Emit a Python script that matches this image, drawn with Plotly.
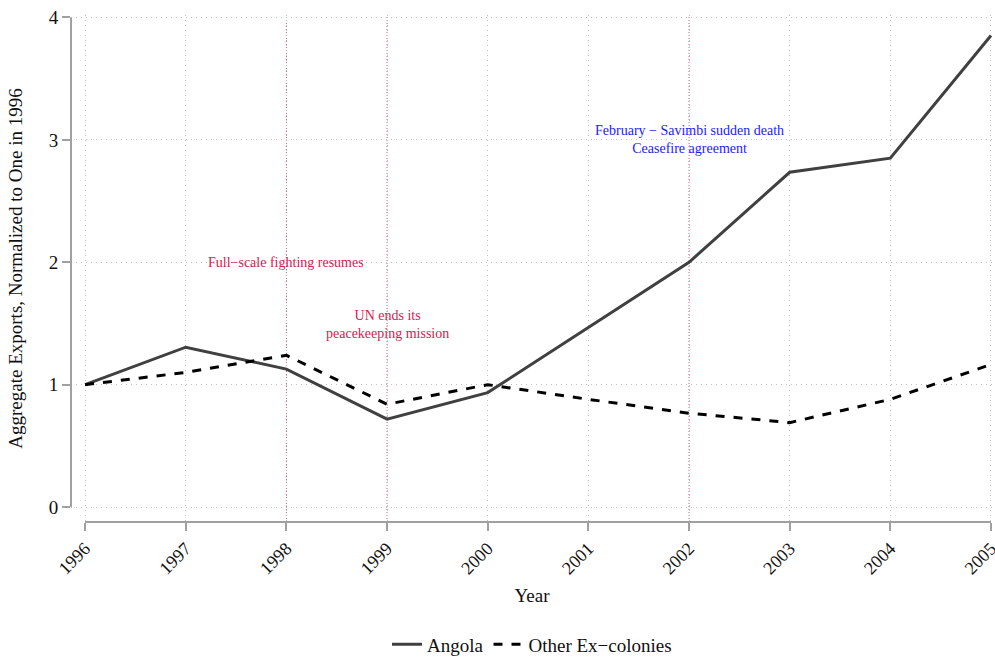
import plotly.graph_objects as go

years = [1996, 1997, 1998, 1999, 2000, 2001, 2002, 2003, 2004, 2005]
angola = [1.0, 1.306, 1.127, 0.718, 0.935, 1.47, 2.0, 2.735, 2.85, 3.853]
other = [1.0, 1.10, 1.24, 0.84, 1.0, 0.88, 0.767, 0.69, 0.88, 1.165]
y_ticks = [0, 1, 2, 3, 4]
event_years = [1998, 1999, 2002]

ann_texts = ["Full\u2212scale fighting resumes",
             "UN ends its<br>peacekeeping mission",
             "February \u2212 Savimbi sudden death<br>Ceasefire agreement"]
ann_x = [1998, 1999, 2002]
ann_y = [2.0, 1.49, 3.0]
ann_colors = ["#d6204f", "#d6204f", "#1a1aff"]

FONT = "Liberation Serif"
GRID_DASH = "1px,4px"

fig = go.Figure()
fig.add_trace(go.Scatter(x=years, y=angola, mode="lines", name="Angola",
                         line=dict(color="#404040", width=3)))
fig.add_trace(go.Scatter(x=years, y=other, mode="lines", name="Other Ex\u2212colonies",
                         line=dict(color="#000000", width=3, dash="dash")))

for ey in event_years:
    fig.add_shape(type="line", xref="x", yref="paper", x0=ey, x1=ey, y0=0, y1=1,
                  line=dict(color="#c86080", width=1, dash="1px,2px"), layer="below")

# Stata-style axis lines spanning only the data range
fig.add_shape(type="line", xref="x", yref="paper", x0=years[0], x1=years[-1], y0=0, y1=0,
              line=dict(color="#a0a0a0", width=2))
fig.add_shape(type="line", xref="paper", yref="y", x0=0, x1=0, y0=y_ticks[0], y1=y_ticks[-1],
              line=dict(color="#a0a0a0", width=2))

for t, x, y, c in zip(ann_texts, ann_x, ann_y, ann_colors):
    fig.add_annotation(x=x, y=y, text=t, showarrow=False,
                       font=dict(family=FONT, size=14, color=c), align="center")

fig.update_layout(
    width=995, height=657,
    margin=dict(l=71, r=2, t=15, b=135, autoexpand=False),
    plot_bgcolor="white", paper_bgcolor="white",
    font=dict(family=FONT, color="#111111"),
    showlegend=True,
    legend=dict(orientation="h", x=0.5, xanchor="center", xref="paper",
                y=0.019, yanchor="middle", yref="container",
                font=dict(family=FONT, size=19), itemwidth=30,
                bgcolor="rgba(0,0,0,0)"),
    xaxis=dict(range=[1995.86, 2005.02], tickmode="array", tickvals=years,
               ticktext=[str(y) for y in years], tickangle=-45, automargin=False,
               ticklabeloverflow="allow",
               tickfont=dict(size=18), ticks="outside", ticklen=8, tickcolor="#a0a0a0",
               tickwidth=2, showline=False, zeroline=False,
               showgrid=True, gridcolor="#c0c0c0", griddash=GRID_DASH, gridwidth=1,
               title=dict(text="Year", font=dict(size=19), standoff=11)),
    yaxis=dict(range=[-0.122, 4.02], tickmode="array", tickvals=y_ticks, automargin=False,
               ticklabeloverflow="allow",
               tickfont=dict(size=19), ticks="outside", ticklen=8, tickcolor="#a0a0a0",
               tickwidth=2, showline=False, zeroline=False,
               showgrid=True, gridcolor="#c0c0c0", griddash=GRID_DASH, gridwidth=1,
               title=dict(text="Aggregate Exports, Normalized to One in 1996",
                          font=dict(size=19), standoff=21)),
)

fig.write_html("out.html", config={"displayModeBar": False},
               post_script="document.body.style.margin='0';document.body.style.overflow='hidden';")
